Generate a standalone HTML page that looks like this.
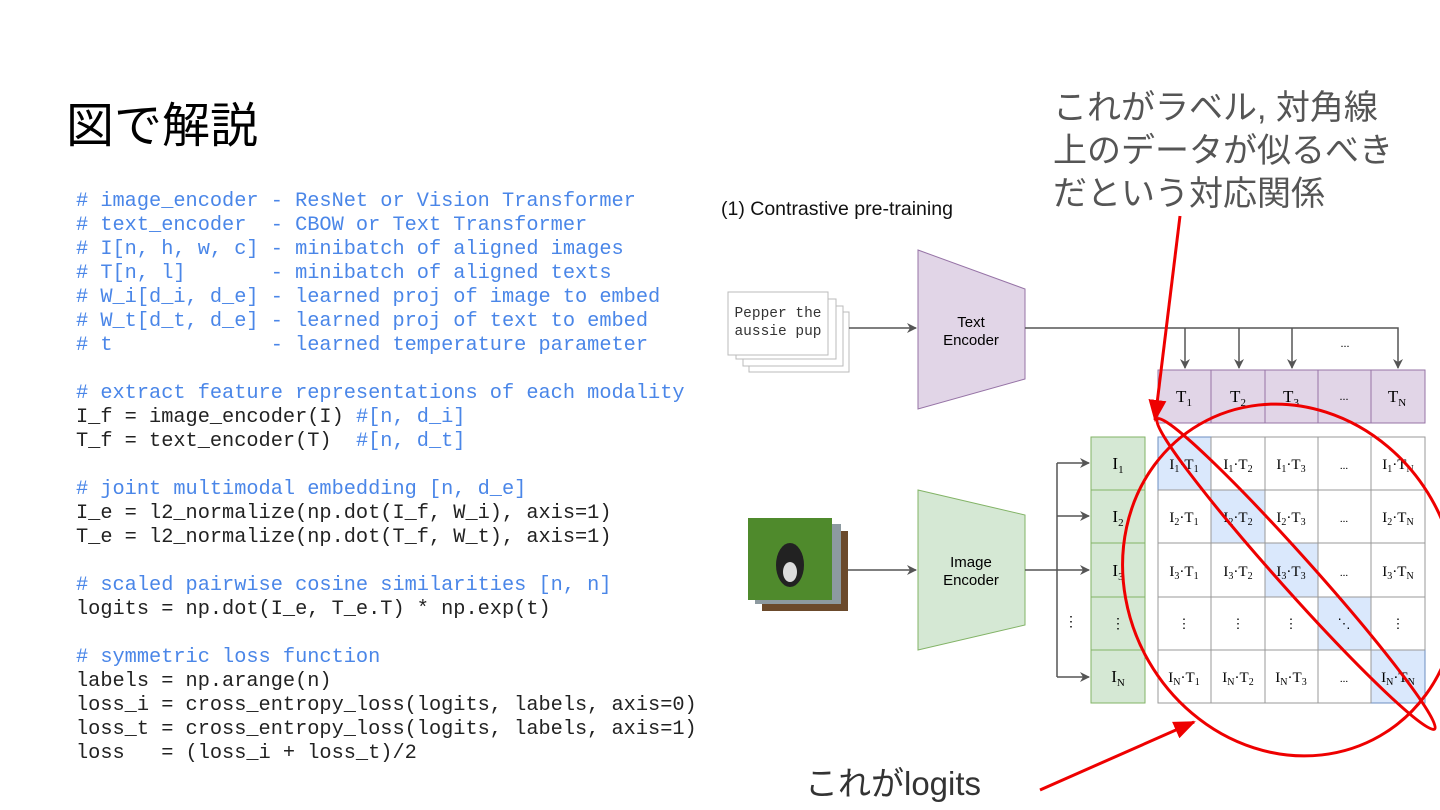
<!DOCTYPE html>
<html><head><meta charset="utf-8"><style>
body{margin:0;width:1440px;height:810px;background:#fff;position:relative;overflow:hidden;font-family:"Liberation Sans","Noto Sans CJK JP",sans-serif}
.t{position:absolute;white-space:pre}
.code{position:absolute;left:76px;top:190px;font-family:"Liberation Mono",monospace;font-size:20.3px;line-height:24px;color:#222;white-space:pre}
.c{color:#4a86e8}
</style></head><body>
<div class="t" style="left:66px;top:86px;font-size:48px;color:#000">図で解説</div>
<div class="t" style="left:1053px;top:87px;font-size:34px;line-height:43px;color:#555">これがラベル, 対角線
上のデータが似るべき
だという対応関係</div>
<div class="t" style="left:805px;top:757px;font-size:33px;color:#333">これがlogits</div>
<div class="code"><span class="c"># image_encoder - ResNet or Vision Transformer
# text_encoder  - CBOW or Text Transformer
# I[n, h, w, c] - minibatch of aligned images
# T[n, l]       - minibatch of aligned texts
# W_i[d_i, d_e] - learned proj of image to embed
# W_t[d_t, d_e] - learned proj of text to embed
# t             - learned temperature parameter</span>

<span class="c"># extract feature representations of each modality</span>
I_f = image_encoder(I) <span class="c">#[n, d_i]</span>
T_f = text_encoder(T)  <span class="c">#[n, d_t]</span>

<span class="c"># joint multimodal embedding [n, d_e]</span>
I_e = l2_normalize(np.dot(I_f, W_i), axis=1)
T_e = l2_normalize(np.dot(T_f, W_t), axis=1)

<span class="c"># scaled pairwise cosine similarities [n, n]</span>
logits = np.dot(I_e, T_e.T) * np.exp(t)

<span class="c"># symmetric loss function</span>
labels = np.arange(n)
loss_i = cross_entropy_loss(logits, labels, axis=0)
loss_t = cross_entropy_loss(logits, labels, axis=1)
loss   = (loss_i + loss_t)/2</div>
<div class="t" style="left:721px;top:198px;font-size:19.5px;color:#111">(1) Contrastive pre-training</div>

<svg width="1440" height="810" style="position:absolute;left:0;top:0" font-family="Liberation Serif,serif">
<defs><marker id="a" markerWidth="10" markerHeight="10" refX="9" refY="5" orient="auto" markerUnits="userSpaceOnUse"><path d="M0,0 L10,5 L0,10 L3,5z" fill="#555"/></marker>
<marker id="r" markerWidth="22" markerHeight="22" refX="20" refY="11" orient="auto" markerUnits="userSpaceOnUse"><path d="M0,2 L22,11 L0,20z" fill="#e00"/></marker></defs>
<g fill="#fff" stroke="#bbb">
<rect x="749" y="312" width="100" height="60"/><rect x="743" y="306" width="100" height="60"/><rect x="736" y="299" width="100" height="60"/><rect x="728" y="292" width="100" height="63"/></g>
<text x="778" y="317" font-family="Liberation Mono,monospace" font-size="14.5" text-anchor="middle" fill="#333">Pepper the</text>
<text x="778" y="335" font-family="Liberation Mono,monospace" font-size="14.5" text-anchor="middle" fill="#333">aussie pup</text>
<line x1="849" y1="328" x2="916" y2="328" stroke="#555" stroke-width="1.5" marker-end="url(#a)"/>
<polygon points="918,250 1025,289 1025,379 918,409" fill="#e1d5e7" stroke="#9673a6"/>
<text x="971" y="327" font-family="Liberation Sans,sans-serif" font-size="15" text-anchor="middle">Text</text>
<text x="971" y="345" font-family="Liberation Sans,sans-serif" font-size="15" text-anchor="middle">Encoder</text>
<polyline points="1025,328 1398,328 1398,368" fill="none" stroke="#555" stroke-width="1.5" marker-end="url(#a)"/>
<g stroke="#555" stroke-width="1.5" marker-end="url(#a)"><line x1="1185" y1="328" x2="1185" y2="368"/><line x1="1239" y1="328" x2="1239" y2="368"/><line x1="1292" y1="328" x2="1292" y2="368"/></g>
<text x="1345" y="347" font-size="12" text-anchor="middle">...</text>
<g fill="#e1d5e7" stroke="#9673a6"><rect x="1158" y="370" width="53" height="53"/><rect x="1211" y="370" width="54" height="53"/><rect x="1265" y="370" width="53" height="53"/><rect x="1318" y="370" width="53" height="53"/><rect x="1371" y="370" width="54" height="53"/></g>
<g font-size="17" text-anchor="middle"><text x="1184" y="402">T<tspan font-size="11" dy="4">1</tspan></text><text x="1238" y="402">T<tspan font-size="11" dy="4">2</tspan></text><text x="1291" y="402">T<tspan font-size="11" dy="4">3</tspan></text><text x="1344" y="400" font-size="12">...</text><text x="1397" y="402">T<tspan font-size="11" dy="4">N</tspan></text></g>
<rect x="762" y="531" width="86" height="80" fill="#6b4a2c"/><rect x="755" y="524" width="86" height="80" fill="#8d9aa0"/><rect x="748" y="518" width="84" height="82" fill="#4f8a2c"/>
<ellipse cx="790" cy="565" rx="14" ry="22" fill="#222"/><ellipse cx="790" cy="572" rx="7" ry="10" fill="#ddd"/>
<line x1="848" y1="570" x2="916" y2="570" stroke="#555" stroke-width="1.5" marker-end="url(#a)"/>
<polygon points="918,490 1025,515 1025,625 918,650" fill="#d5e8d4" stroke="#82b366"/>
<text x="971" y="567" font-family="Liberation Sans,sans-serif" font-size="15" text-anchor="middle">Image</text>
<text x="971" y="585" font-family="Liberation Sans,sans-serif" font-size="15" text-anchor="middle">Encoder</text>
<line x1="1025" y1="570" x2="1057" y2="570" stroke="#555" stroke-width="1.5"/>
<line x1="1057" y1="463" x2="1057" y2="677" stroke="#555" stroke-width="1.5"/>
<g stroke="#555" stroke-width="1.5" marker-end="url(#a)"><line x1="1057" y1="463" x2="1089" y2="463"/><line x1="1057" y1="516" x2="1089" y2="516"/><line x1="1057" y1="570" x2="1089" y2="570"/><line x1="1057" y1="677" x2="1089" y2="677"/></g>
<text x="1071" y="626" font-size="14" text-anchor="middle">⋮</text>
<g fill="#d5e8d4" stroke="#82b366"><rect x="1091" y="437" width="54" height="53"/><rect x="1091" y="490" width="54" height="53"/><rect x="1091" y="543" width="54" height="54"/><rect x="1091" y="597" width="54" height="53"/><rect x="1091" y="650" width="54" height="53"/></g>
<g font-size="17" text-anchor="middle"><text x="1118" y="469">I<tspan font-size="11" dy="4">1</tspan></text><text x="1118" y="522">I<tspan font-size="11" dy="4">2</tspan></text><text x="1118" y="576">I<tspan font-size="11" dy="4">3</tspan></text><text x="1118" y="628" font-size="14">⋮</text><text x="1118" y="682">I<tspan font-size="11" dy="4">N</tspan></text></g>
<g stroke="#999" fill="#fff">
<rect x="1158" y="437" width="267" height="266"/></g>
<g fill="#dae8fc" stroke="#6c8ebf"><rect x="1158" y="437" width="53" height="53"/><rect x="1211" y="490" width="54" height="53"/><rect x="1265" y="543" width="53" height="54"/><rect x="1318" y="597" width="53" height="53"/><rect x="1371" y="650" width="54" height="53"/></g>
<g stroke="#999"><line x1="1211" y1="437" x2="1211" y2="703"/><line x1="1265" y1="437" x2="1265" y2="703"/><line x1="1318" y1="437" x2="1318" y2="703"/><line x1="1371" y1="437" x2="1371" y2="703"/><line x1="1158" y1="490" x2="1425" y2="490"/><line x1="1158" y1="543" x2="1425" y2="543"/><line x1="1158" y1="597" x2="1425" y2="597"/><line x1="1158" y1="650" x2="1425" y2="650"/></g>
<g font-size="15" text-anchor="middle">
<text x="1184" y="469">I<tspan font-size="10" dy="3">1</tspan><tspan dy="-3">·T</tspan><tspan font-size="10" dy="3">1</tspan></text>
<text x="1238" y="469">I<tspan font-size="10" dy="3">1</tspan><tspan dy="-3">·T</tspan><tspan font-size="10" dy="3">2</tspan></text>
<text x="1291" y="469">I<tspan font-size="10" dy="3">1</tspan><tspan dy="-3">·T</tspan><tspan font-size="10" dy="3">3</tspan></text>
<text x="1344" y="469" font-size="11">...</text>
<text x="1398" y="469">I<tspan font-size="10" dy="3">1</tspan><tspan dy="-3">·T</tspan><tspan font-size="10" dy="3">N</tspan></text>
<text x="1184" y="522">I<tspan font-size="10" dy="3">2</tspan><tspan dy="-3">·T</tspan><tspan font-size="10" dy="3">1</tspan></text>
<text x="1238" y="522">I<tspan font-size="10" dy="3">2</tspan><tspan dy="-3">·T</tspan><tspan font-size="10" dy="3">2</tspan></text>
<text x="1291" y="522">I<tspan font-size="10" dy="3">2</tspan><tspan dy="-3">·T</tspan><tspan font-size="10" dy="3">3</tspan></text>
<text x="1344" y="522" font-size="11">...</text>
<text x="1398" y="522">I<tspan font-size="10" dy="3">2</tspan><tspan dy="-3">·T</tspan><tspan font-size="10" dy="3">N</tspan></text>
<text x="1184" y="576">I<tspan font-size="10" dy="3">3</tspan><tspan dy="-3">·T</tspan><tspan font-size="10" dy="3">1</tspan></text>
<text x="1238" y="576">I<tspan font-size="10" dy="3">3</tspan><tspan dy="-3">·T</tspan><tspan font-size="10" dy="3">2</tspan></text>
<text x="1291" y="576">I<tspan font-size="10" dy="3">3</tspan><tspan dy="-3">·T</tspan><tspan font-size="10" dy="3">3</tspan></text>
<text x="1344" y="576" font-size="11">...</text>
<text x="1398" y="576">I<tspan font-size="10" dy="3">3</tspan><tspan dy="-3">·T</tspan><tspan font-size="10" dy="3">N</tspan></text>
<text x="1184" y="628" font-size="13">⋮</text><text x="1238" y="628" font-size="13">⋮</text><text x="1291" y="628" font-size="13">⋮</text><text x="1344" y="628" font-size="13">⋱</text><text x="1398" y="628" font-size="13">⋮</text>
<text x="1184" y="682">I<tspan font-size="10" dy="3">N</tspan><tspan dy="-3">·T</tspan><tspan font-size="10" dy="3">1</tspan></text>
<text x="1238" y="682">I<tspan font-size="10" dy="3">N</tspan><tspan dy="-3">·T</tspan><tspan font-size="10" dy="3">2</tspan></text>
<text x="1291" y="682">I<tspan font-size="10" dy="3">N</tspan><tspan dy="-3">·T</tspan><tspan font-size="10" dy="3">3</tspan></text>
<text x="1344" y="682" font-size="11">...</text>
<text x="1398" y="682">I<tspan font-size="10" dy="3">N</tspan><tspan dy="-3">·T</tspan><tspan font-size="10" dy="3">N</tspan></text>
</g>
<g fill="none" stroke="#e00" stroke-width="3">
<ellipse cx="1290" cy="580" rx="180" ry="163" transform="rotate(60 1290 580)"/>
<ellipse cx="1296" cy="574" rx="208" ry="17" transform="rotate(48.2 1296 574)"/>
<line x1="1180" y1="216" x2="1155" y2="420" marker-end="url(#r)"/>
<line x1="1040" y1="790" x2="1194" y2="722" marker-end="url(#r)"/>
</g>
</svg>
</body></html>
